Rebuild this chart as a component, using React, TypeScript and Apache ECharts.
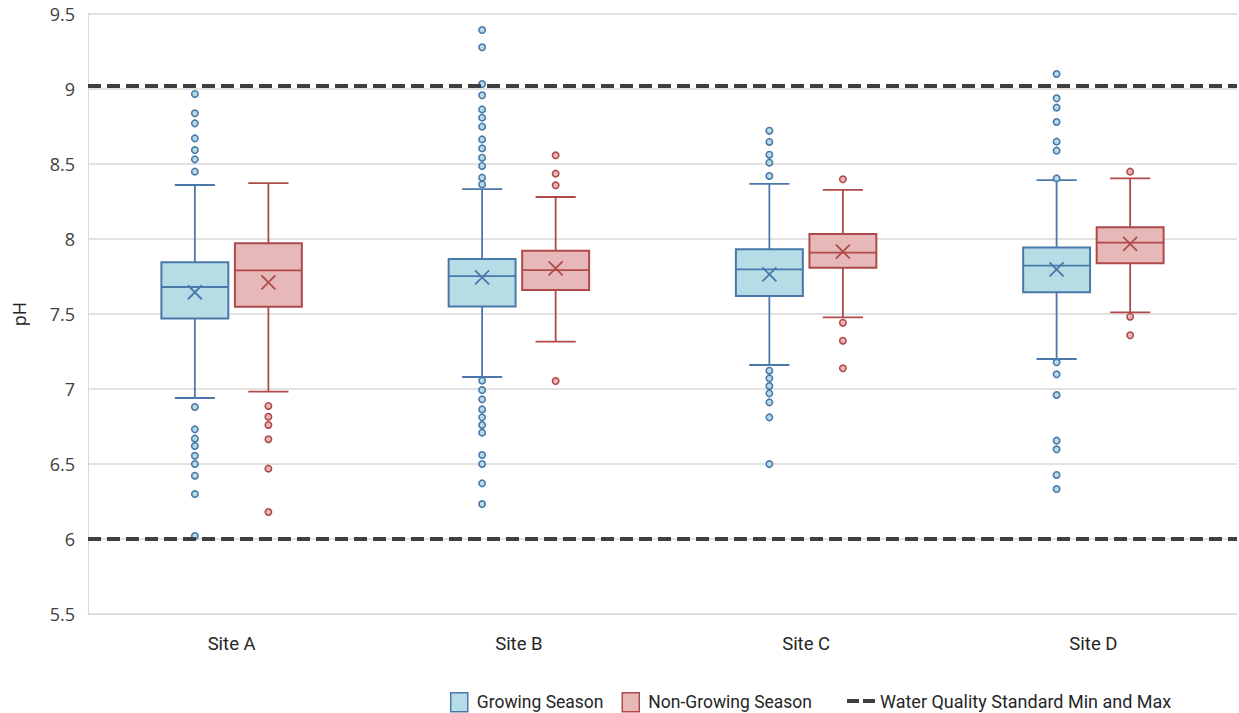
import React, { useEffect, useRef } from "react";
import * as echarts from "echarts";

const sites = ["Site A", "Site B", "Site C", "Site D"];
const yTicks = [5.5, 6, 6.5, 7, 7.5, 8, 8.5, 9, 9.5];

// [low whisker, Q1, median, Q3, high whisker]
const growingBox = [
  [6.94, 7.47, 7.68, 7.845, 8.36],
  [7.08, 7.55, 7.753, 7.867, 8.333],
  [7.16, 7.62, 7.798, 7.931, 8.367],
  [7.2, 7.645, 7.822, 7.944, 8.393],
];
const growingMean = [7.645, 7.744, 7.764, 7.798];
const growingOutliers = [
  [8.967, 8.838, 8.771, 8.671, 8.593, 8.531, 8.449, 6.88, 6.731, 6.669, 6.62, 6.555, 6.5, 6.422, 6.3, 6.02],
  [9.393, 9.278, 9.033, 8.958, 8.864, 8.809, 8.749, 8.664, 8.604, 8.542, 8.487, 8.409, 8.364, 7.056, 6.993, 6.931, 6.864, 6.811, 6.76, 6.709, 6.56, 6.5, 6.371, 6.233],
  [8.722, 8.647, 8.562, 8.509, 8.42, 7.122, 7.071, 7.02, 6.971, 6.911, 6.811, 6.5],
  [9.1, 8.938, 8.876, 8.78, 8.649, 8.589, 8.404, 7.178, 7.098, 6.96, 6.656, 6.598, 6.427, 6.333],
];

const nonGrowingBox = [
  [6.982, 7.549, 7.791, 7.971, 8.373],
  [7.316, 7.66, 7.793, 7.922, 8.28],
  [7.478, 7.809, 7.909, 8.033, 8.327],
  [7.511, 7.838, 7.976, 8.078, 8.404],
];
const nonGrowingMean = [7.711, 7.804, 7.916, 7.967];
const nonGrowingOutliers = [
  [6.887, 6.815, 6.76, 6.665, 6.469, 6.18],
  [8.558, 8.436, 8.358, 7.053],
  [8.398, 7.442, 7.322, 7.138],
  [8.449, 7.482, 7.358],
];

const standardLimits = [6.0, 9.015];

const BLUE_FILL = "#b6dce6";
const BLUE_LINE = "#4a78aa";
const RED_FILL = "#e6b8b8";
const RED_LINE = "#b04a4a";
const FONT = "Roboto, sans-serif";
const AXIS_FONT = "'Open Sans', sans-serif";

function boxRender(offset: number, fill: string, line: string) {
  return (params: any, api: any) => {
    const idx = api.value(0);
    const band = api.size([1, 0])[0];
    const cx = api.coord([idx, 0])[0] + offset * band;
    const y = (v: number) => api.coord([idx, v])[1];
    const w = band * 0.233;
    const cap = w * 0.3;
    const low = y(api.value(1));
    const q1 = y(api.value(2));
    const med = y(api.value(3));
    const q3 = y(api.value(4));
    const high = y(api.value(5));
    const mean = y(api.value(6));
    const xs = 7;
    const ls = { stroke: line, lineWidth: 1.8 };
    return {
      type: "group",
      children: [
        { type: "line", shape: { x1: cx, y1: q1, x2: cx, y2: low }, style: ls },
        { type: "line", shape: { x1: cx - cap, y1: low, x2: cx + cap, y2: low }, style: ls },
        { type: "line", shape: { x1: cx, y1: q3, x2: cx, y2: high }, style: ls },
        { type: "line", shape: { x1: cx - cap, y1: high, x2: cx + cap, y2: high }, style: ls },
        {
          type: "rect",
          shape: { x: cx - w / 2, y: q3, width: w, height: q1 - q3 },
          style: { fill, stroke: line, lineWidth: 2 },
        },
        { type: "line", shape: { x1: cx - w / 2, y1: med, x2: cx + w / 2, y2: med }, style: ls },
        { type: "line", shape: { x1: cx - xs, y1: mean - xs, x2: cx + xs, y2: mean + xs }, style: ls },
        { type: "line", shape: { x1: cx - xs, y1: mean + xs, x2: cx + xs, y2: mean - xs }, style: ls },
      ],
    };
  };
}

function outlierRender(offset: number, fill: string, line: string) {
  return (params: any, api: any) => {
    const idx = api.value(0);
    const band = api.size([1, 0])[0];
    const p = api.coord([idx, api.value(1)]);
    return {
      type: "circle",
      shape: { cx: p[0] + offset * band, cy: p[1], r: 3.2 },
      style: { fill, stroke: line, lineWidth: 1.6 },
    };
  };
}

export default function App() {
  const ref = useRef<HTMLDivElement>(null);

  useEffect(() => {
    document.body.style.margin = "0";
    if (!ref.current) return;
    const chart = echarts.init(ref.current, null, { renderer: "svg" });

    const gBox = growingBox.map((b, i) => [i, ...b, growingMean[i]]);
    const nBox = nonGrowingBox.map((b, i) => [i, ...b, nonGrowingMean[i]]);
    const gOut: number[][] = [];
    growingOutliers.forEach((arr, i) => arr.forEach((v) => gOut.push([i, v])));
    const nOut: number[][] = [];
    nonGrowingOutliers.forEach((arr, i) => arr.forEach((v) => nOut.push([i, v])));

    const gOff = -0.128;
    const nOff = 0.128;

    chart.setOption({
      animation: false,
      grid: { left: 88, right: 2, top: 14, bottom: 99 },
      xAxis: {
        type: "category",
        data: sites,
        axisTick: { show: false },
        axisLine: { show: true, lineStyle: { color: "#d9d9d9", width: 1 } },
        axisLabel: { color: "#262626", fontSize: 18.5, fontFamily: FONT, margin: 20 },
      },
      yAxis: {
        type: "value",
        min: yTicks[0],
        max: yTicks[yTicks.length - 1],
        interval: 0.5,
        name: "pH",
        nameLocation: "middle",
        nameGap: 60,
        nameTextStyle: { color: "#262626", fontSize: 18, fontFamily: AXIS_FONT },
        axisLine: { show: true, lineStyle: { color: "#d9d9d9", width: 1 } },
        axisTick: { show: false },
        splitLine: { show: true, lineStyle: { color: "#d9d9d9", width: 1.5 } },
        axisLabel: { color: "#404040", fontSize: 18, fontFamily: AXIS_FONT, margin: 13 },
      },
      legend: [
        {
          left: 445,
          top: 687,
          itemWidth: 17,
          itemHeight: 19,
          itemGap: 18,
          textStyle: { fontSize: 17.5, fontFamily: FONT, color: "#262626", padding: [0, 0, 0, 4] },
          data: [
            { name: "Growing Season", icon: "rect", itemStyle: { color: BLUE_FILL, borderColor: BLUE_LINE, borderWidth: 1.5 } },
            { name: "Non-Growing Season", icon: "rect", itemStyle: { color: RED_FILL, borderColor: RED_LINE, borderWidth: 1.5 } },
          ],
        },
        {
          left: 842,
          top: 687,
          itemWidth: 28,
          itemHeight: 4,
          textStyle: { fontSize: 18, fontFamily: FONT, color: "#262626", padding: [0, 0, 0, 0] },
          data: [
            {
              name: "Water Quality Standard Min and Max",
              icon: "path://M0,0h12v4h-12z M16,0h12v4h-12z",
              itemStyle: { color: "#404040" },
            },
          ],
        },
      ],
      series: [
        {
          type: "line",
          name: "Water Quality Standard Min and Max",
          data: [],
          symbol: "none",
          lineStyle: { color: "#404040", width: 4, type: [12, 5] },
          itemStyle: { color: "#404040" },
          markLine: {
            silent: true,
            symbol: ["none", "none"],
            label: { show: false },
            lineStyle: { color: "#404040", width: 4, type: [13, 6] },
            data: standardLimits.map((v) => ({ yAxis: v })),
          },
        },
        {
          type: "custom",
          name: "Growing Season",
          itemStyle: { color: BLUE_FILL },
          renderItem: boxRender(gOff, BLUE_FILL, BLUE_LINE),
          encode: { x: 0, y: [1, 2, 3, 4, 5, 6] },
          data: gBox,
          z: 3,
        },
        {
          type: "custom",
          name: "Non-Growing Season",
          itemStyle: { color: RED_FILL },
          renderItem: boxRender(nOff, RED_FILL, RED_LINE),
          encode: { x: 0, y: [1, 2, 3, 4, 5, 6] },
          data: nBox,
          z: 3,
        },
        {
          type: "custom",
          name: "Growing Season",
          itemStyle: { color: BLUE_FILL },
          renderItem: outlierRender(gOff, BLUE_FILL, BLUE_LINE),
          encode: { x: 0, y: 1 },
          data: gOut,
          z: 4,
        },
        {
          type: "custom",
          name: "Non-Growing Season",
          itemStyle: { color: RED_FILL },
          renderItem: outlierRender(nOff, RED_FILL, RED_LINE),
          encode: { x: 0, y: 1 },
          data: nOut,
          z: 4,
        },
      ],
    });

    return () => chart.dispose();
  }, []);

  return <div ref={ref} style={{ width: 1239, height: 713 }} />;
}
